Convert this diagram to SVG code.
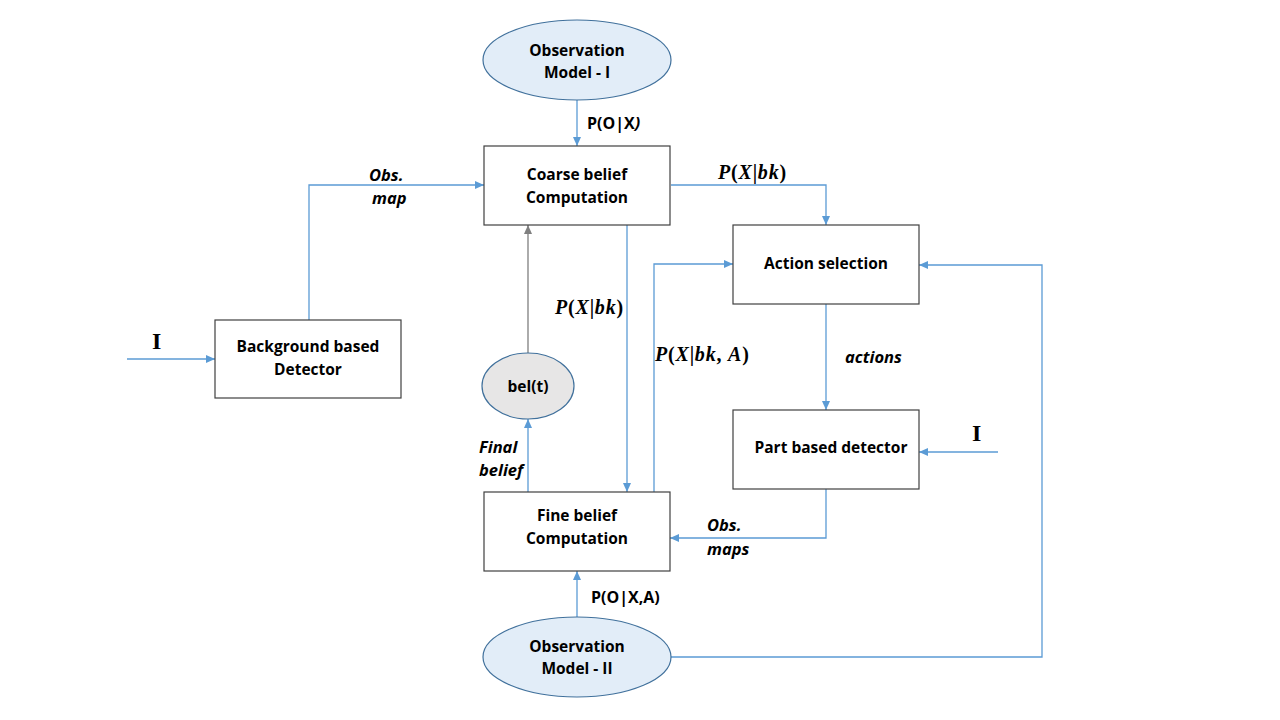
<svg xmlns="http://www.w3.org/2000/svg" width="1280" height="720" viewBox="0 0 1280 720">
<style>
.box{fill:#ffffff;stroke:#404040;stroke-width:1.2}
.ell{fill:#e2edf8;stroke:#41719c;stroke-width:1.2}
.bel{fill:#e7e6e6;stroke:#41719c;stroke-width:1.2}
.t{font-family:"Open Sans","Liberation Sans",sans-serif;font-weight:bold;font-size:15.5px;fill:#000;text-anchor:middle}
.lb{font-family:"Open Sans","Liberation Sans",sans-serif;font-weight:bold;font-size:16px;fill:#000}
.li{font-family:"Open Sans","Liberation Sans",sans-serif;font-weight:bold;font-style:italic;font-size:16.5px;fill:#000}
.m{font-family:"Liberation Serif","DejaVu Serif",serif;font-weight:bold;font-style:italic;font-size:20px;letter-spacing:0.8px;fill:#000}
.u{font-style:normal}
.mr{font-family:"Liberation Serif","DejaVu Serif",serif;font-weight:bold;font-size:24px;fill:#000}
.c{fill:none;stroke:#5b9bd5;stroke-width:1.3}
.g{fill:none;stroke:#7f7f7f;stroke-width:1.3}
</style>
<defs>
<marker id="ab" markerWidth="10" markerHeight="10" refX="9" refY="5" orient="auto" markerUnits="userSpaceOnUse">
<path d="M0,1 L9,5 L0,9 z" fill="#5b9bd5"/>
</marker>
<marker id="ag" markerWidth="10" markerHeight="10" refX="9" refY="5" orient="auto" markerUnits="userSpaceOnUse">
<path d="M0,1 L9,5 L0,9 z" fill="#7f7f7f"/>
</marker>
</defs>
<rect width="1280" height="720" fill="#ffffff"/>

<g id="connectors">
<path class="c" d="M577,100 V146" marker-end="url(#ab)"/>
<path class="c" d="M671,185 H826 V225" marker-end="url(#ab)"/>
<path class="c" d="M826,304 V410" marker-end="url(#ab)"/>
<path class="c" d="M998,452 H919" marker-end="url(#ab)"/>
<path class="c" d="M671,657 H1042 V265 H919" marker-end="url(#ab)"/>
<path class="c" d="M826,489 V538 H670" marker-end="url(#ab)"/>
<path class="c" d="M577,617 V571" marker-end="url(#ab)"/>
<path class="c" d="M627,225 V492" marker-end="url(#ab)"/>
<path class="c" d="M654,492 V264 H733" marker-end="url(#ab)"/>
<path class="c" d="M528,492 V419" marker-end="url(#ab)"/>
<path class="g" d="M528,353 V225" marker-end="url(#ag)"/>
<path class="c" d="M309,320 V185 H484" marker-end="url(#ab)"/>
<path class="c" d="M127,359 H215" marker-end="url(#ab)"/>
<text class="lb" x="587" y="129">P(O|X<tspan font-style="italic">)</tspan></text>
<text class="m" x="718" y="179">P<tspan class="u">(</tspan>X<tspan class="u">|</tspan>bk<tspan class="u">)</tspan></text>
<text class="li" x="845" y="363">actions</text>
<text class="mr" x="972" y="441">I</text>
<text class="mr" x="152" y="349">I</text>
<text class="li" x="707" y="531">Obs.</text>
<text class="li" x="707" y="555">maps</text>
<text class="lb" x="591" y="603">P(O|X,A)</text>
<text class="m" x="555" y="314">P<tspan class="u">(</tspan>X<tspan class="u">|</tspan>bk<tspan class="u">)</tspan></text>
<text class="m" x="655" y="361">P<tspan class="u">(</tspan>X<tspan class="u">|</tspan>bk<tspan class="u">, </tspan>A<tspan class="u">)</tspan></text>
<text class="li" x="479" y="453">Final</text>
<text class="li" x="479" y="476">belief</text>
<text class="li" x="369" y="181">Obs.</text>
<text class="li" x="372" y="204">map</text>
</g>

<g id="obs1">
<ellipse class="ell" cx="577" cy="60" rx="94" ry="40"/>
<text class="t" x="577" y="56">Observation</text>
<text class="t" x="577" y="78">Model - I</text>
</g>
<g id="coarse">
<rect class="box" x="484" y="146" width="186" height="79"/>
<text class="t" x="577" y="180">Coarse belief</text>
<text class="t" x="577" y="203">Computation</text>
</g>
<g id="action">
<rect class="box" x="733" y="225" width="186" height="79"/>
<text class="t" x="826" y="269">Action selection</text>
</g>
<g id="part">
<rect class="box" x="733" y="410" width="186" height="79"/>
<text class="t" x="831" y="453">Part based detector</text>
</g>
<g id="fine">
<rect class="box" x="484" y="492" width="186" height="79"/>
<text class="t" x="577" y="521">Fine belief</text>
<text class="t" x="577" y="544">Computation</text>
</g>
<g id="obs2">
<ellipse class="ell" cx="577" cy="657" rx="94" ry="40"/>
<text class="t" x="577" y="652">Observation</text>
<text class="t" x="577" y="674">Model - II</text>
</g>
<g id="belt">
<ellipse class="bel" cx="528" cy="386" rx="46" ry="33"/>
<text class="t" x="528" y="392">bel(t)</text>
</g>
<g id="background">
<rect class="box" x="215" y="320" width="186" height="78"/>
<text class="t" x="308" y="352">Background based</text>
<text class="t" x="308" y="375">Detector</text>
</g>
</svg>
